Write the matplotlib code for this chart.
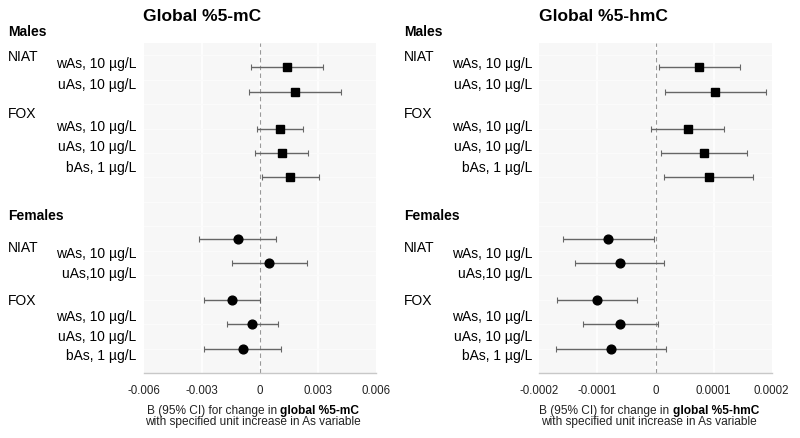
import numpy as np
import matplotlib
matplotlib.use('Agg')
import matplotlib.pyplot as plt

plt.rcParams['font.family'] = ['Liberation Sans', 'DejaVu Sans']

# row positions (top to bottom), males first then females
rows = [0, 1, 2.5, 3.5, 4.5, 7, 8, 9.5, 10.5, 11.5]
is_male = [True] * 5 + [False] * 5

# Global %5-mC
mc_est = [0.00141, 0.00181, 0.00105, 0.00114, 0.00157,
          -0.00114, 0.00048, -0.00143, -0.00040, -0.00088]
mc_lo = [-0.00045, -0.00055, -0.00017, -0.00024, 0.00009,
         -0.00314, -0.00143, -0.00288, -0.00170, -0.00288]
mc_hi = [0.00327, 0.00417, 0.00222, 0.00250, 0.00304,
         0.00083, 0.00243, 0.00000, 0.00091, 0.00107]

# Global %5-hmC
hmc_est = [0.755e-4, 1.03e-4, 0.56e-4, 0.83e-4, 0.917e-4,
           -0.814e-4, -0.617e-4, -1.009e-4, -0.607e-4, -0.767e-4]
hmc_lo = [0.055e-4, 0.164e-4, -0.072e-4, 0.10e-4, 0.152e-4,
          -1.59e-4, -1.388e-4, -1.703e-4, -1.25e-4, -1.716e-4]
hmc_hi = [1.457e-4, 1.905e-4, 1.186e-4, 1.572e-4, 1.686e-4,
          -0.026e-4, 0.152e-4, -0.319e-4, 0.038e-4, 0.181e-4]

mc_ticks = [-0.006, -0.003, 0, 0.003, 0.006]
mc_ticklabels = ['-0.006', '-0.003', '0', '0.003', '0.006']
hmc_ticks = [-0.0002, -0.0001, 0, 0.0001, 0.0002]
hmc_ticklabels = ['-0.0002', '-0.0001', '0', '0.0001', '0.0002']

titles = ['Global %5-mC', 'Global %5-hmC']
bold_part = ['global %5-mC', 'global %5-hmC']

# row labels: (text, kind, y pixel) kind: 'head' bold header, 'grp' cohort, 'exp' exposure
left_labels = [
    ('Males', 'head', 32.3), ('NIAT', 'grp', 57.3),
    ('wAs, 10 µg/L', 'exp', 64), ('uAs, 10 µg/L', 'exp', 85.3),
    ('FOX', 'grp', 114), ('wAs, 10 µg/L', 'exp', 127),
    ('uAs, 10 µg/L', 'exp', 147), ('bAs, 1 µg/L', 'exp', 168),
    ('Females', 'head', 215.7), ('NIAT', 'grp', 248.3),
    ('wAs, 10 µg/L', 'exp', 254), ('uAs,10 µg/L', 'exp', 274.3),
    ('FOX', 'grp', 301.3), ('wAs, 10 µg/L', 'exp', 317),
    ('uAs, 10 µg/L', 'exp', 336.7), ('bAs, 1 µg/L', 'exp', 355.7),
]

W, H = 800, 438
fig = plt.figure(figsize=(W / 100, H / 100), dpi=100)
renderer = fig.canvas.get_renderer()

panels = [
    dict(x0=144, x1=376, est=mc_est, lo=mc_lo, hi=mc_hi, ticks=mc_ticks,
         tl=mc_ticklabels, lim=(-0.006, 0.006), head_x=8, exp_x=136.7,
         title_x=202.5, xl_x=253),
    dict(x0=539.3, x1=771.7, est=hmc_est, lo=hmc_lo, hi=hmc_hi, ticks=hmc_ticks,
         tl=hmc_ticklabels, lim=(-0.0002, 0.0002), head_x=404.3, exp_x=532.7,
         title_x=603, xl_x=649),
]

top, bot = 43, 373
bg = '#f7f7f7'

for i, p in enumerate(panels):
    ax = fig.add_axes([p['x0'] / W, 1 - bot / H, (p['x1'] - p['x0']) / W, (bot - top) / H])
    ax.set_facecolor(bg)
    ax.set_xlim(*p['lim'])
    ax.set_ylim(12.5, -1)
    for s in ['left', 'right', 'top']:
        ax.spines[s].set_visible(False)
    ax.spines['bottom'].set_color('#c8c8c8')
    ax.spines['bottom'].set_linewidth(1.0)
    ax.set_xticks(p['ticks'])
    ax.set_xticklabels(p['tl'])
    ax.set_yticks([])
    ax.tick_params(axis='x', length=0, pad=9, labelsize=8.3, labelcolor='#222222')
    for t in p['ticks'][1:-1]:
        ax.axvline(t, color='white', lw=1.2, zorder=0)
    for yy in np.arange(-0.5, 12.5, 1.0):
        ax.axhline(yy, color='#fbfbfb', lw=0.8, zorder=0)
    ax.axvline(0, color='#999999', lw=0.8, ls=(0, (4, 3)), zorder=1)

    est = np.array(p['est'])
    lo = np.array(p['lo'])
    hi = np.array(p['hi'])
    y = np.array(rows)
    m = np.array(is_male)
    for mask, mk in [(m, 's'), (~m, 'o')]:
        ax.errorbar(est[mask], y[mask], xerr=[est[mask] - lo[mask], hi[mask] - est[mask]],
                    fmt=mk, color='black', ms=6.3, ecolor='#666666', elinewidth=1.0,
                    capsize=2.5, capthick=0.8, zorder=3)

    fig.text(p['title_x'] / W, 1 - 16.7 / H, titles[i], ha='center', va='center',
             fontsize=12.5, fontweight='bold', color='black')

    for txt, kind, yp in left_labels:
        if kind == 'head':
            fig.text(p['head_x'] / W, 1 - yp / H, txt, ha='left', va='center',
                     fontsize=10, fontweight='bold', color='black')
        elif kind == 'grp':
            fig.text(p['head_x'] / W, 1 - yp / H, txt, ha='left', va='center',
                     fontsize=10, color='black')
        else:
            fig.text(p['exp_x'] / W, 1 - yp / H, txt, ha='right', va='center',
                     fontsize=10, color='black')

    # two-line x label, bold part placed right after the regular part
    fs = 8.6
    y1 = 1 - 411 / H
    y2 = 1 - 421.7 / H
    t1 = fig.text(0, y1, 'B (95% CI) for change in', ha='left', va='center',
                  fontsize=fs, color='#222222')
    t2 = fig.text(0, y1, bold_part[i], ha='left', va='center',
                  fontsize=fs, fontweight='bold', color='black')
    w1 = t1.get_window_extent(renderer).width
    w2 = t2.get_window_extent(renderer).width
    sp = fs * 0.278 * 100 / 72
    start = p['xl_x'] - (w1 + sp + w2) / 2
    t1.set_x(start / W)
    t2.set_x((start + w1 + sp) / W)
    fig.text(p['xl_x'] / W, y2, 'with specified unit increase in As variable',
             ha='center', va='center', fontsize=fs, color='#222222')

fig.savefig('out.png', dpi=100, facecolor='white')
